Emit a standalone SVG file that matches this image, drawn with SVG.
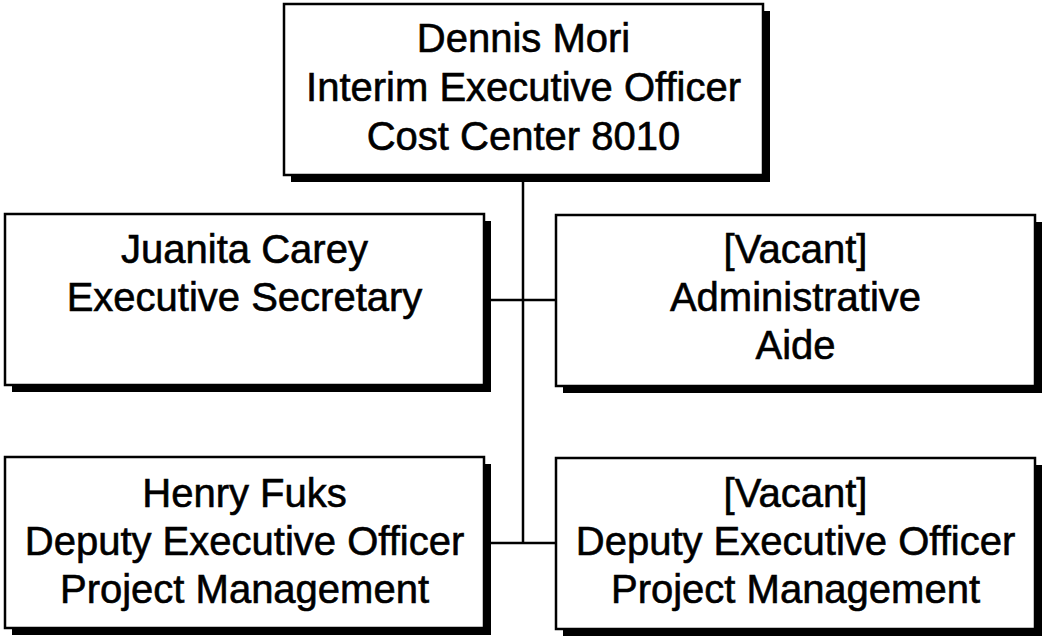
<svg xmlns="http://www.w3.org/2000/svg" width="1043" height="638" viewBox="0 0 1043 638">
<style>
.sh{fill:#000}
.bx{fill:#fff;stroke:#000;stroke-width:2.5}
.t{font-family:"Liberation Sans",Arial,sans-serif;font-size:40px;fill:#000;stroke:#000;stroke-width:0.6;text-anchor:middle}
.c{stroke:#000;stroke-width:2.5;fill:none}
</style>
<rect width="1043" height="638" fill="#fff"/>
<g id="connectors">
<line class="c" x1="523" y1="175" x2="523" y2="543"/>
<line class="c" x1="490" y1="300" x2="556" y2="300"/>
<line class="c" x1="490" y1="543" x2="556" y2="543"/>
</g>
<g id="n-dennis">
<rect class="sh" x="291" y="11" width="479" height="171"/>
<rect class="bx" x="284" y="4" width="479" height="171"/>
<text class="t" x="523.5" y="52">Dennis Mori</text>
<text class="t" x="523.5" y="101">Interim Executive Officer</text>
<text class="t" x="523.5" y="150">Cost Center 8010</text>
</g>
<g id="n-juanita">
<rect class="sh" x="12" y="221" width="479" height="171"/>
<rect class="bx" x="5" y="214" width="479" height="171"/>
<text class="t" x="244.5" y="263">Juanita Carey</text>
<text class="t" x="244.5" y="311">Executive Secretary</text>
</g>
<g id="n-aide">
<rect class="sh" x="563" y="222" width="479" height="171"/>
<rect class="bx" x="556" y="215" width="479" height="171"/>
<text class="t" x="795.5" y="263">[Vacant]</text>
<text class="t" x="795.5" y="311">Administrative</text>
<text class="t" x="795.5" y="359">Aide</text>
</g>
<g id="n-henry">
<rect class="sh" x="12" y="464" width="479" height="171"/>
<rect class="bx" x="5" y="457" width="479" height="171"/>
<text class="t" x="244.5" y="507">Henry Fuks</text>
<text class="t" x="244.5" y="555">Deputy Executive Officer</text>
<text class="t" x="244.5" y="603">Project Management</text>
</g>
<g id="n-deputy">
<rect class="sh" x="563" y="465" width="479" height="171"/>
<rect class="bx" x="556" y="458" width="479" height="171"/>
<text class="t" x="795.5" y="507">[Vacant]</text>
<text class="t" x="795.5" y="555">Deputy Executive Officer</text>
<text class="t" x="795.5" y="603">Project Management</text>
</g>
</svg>
